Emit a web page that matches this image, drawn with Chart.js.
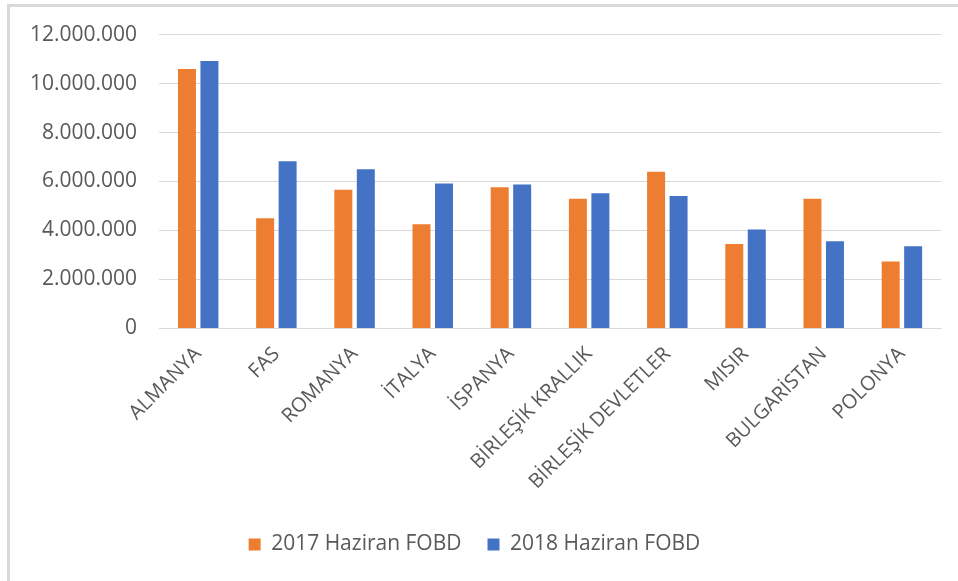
<!DOCTYPE html>
<html>
<head>
<meta charset="utf-8">
<script src="https://cdn.jsdelivr.net/npm/chart.js@4"></script>
<style>
  html, body { margin: 0; padding: 0; background: #fff; }
  #wrap { position: relative; width: 958px; height: 581px; overflow: hidden; }
  #frame { position: absolute; left: 7px; top: 4px; right: -10px; bottom: -10px;
           border-top: 3px solid #d9d9d9; border-left: 3px solid #d9d9d9; }
  #box { position: absolute; left: 0; top: 0; width: 958px; height: 581px; }
</style>
</head>
<body>
<div id="wrap">
  <div id="frame"></div>
  <div id="box"><canvas id="exportChart"></canvas></div>
</div>
<script>
// countries (x axis)
var countries = ['ALMANYA', 'FAS', 'ROMANYA', 'İTALYA', 'İSPANYA', 'BİRLEŞİK KRALLIK',
                 'BİRLEŞİK DEVLETLER', 'MISIR', 'BULGARİSTAN', 'POLONYA'];

// values
var values2017 = [10600000, 4500000, 5660000, 4250000, 5760000, 5300000, 6400000, 3450000, 5300000, 2730000];
var values2018 = [10920000, 6830000, 6500000, 5920000, 5880000, 5520000, 5410000, 4040000, 3560000, 3350000];

var seriesNames = ['2017 Haziran FOBD', '2018 Haziran FOBD'];

// y axis ticks
var yTicks = [0, 2000000, 4000000, 6000000, 8000000, 10000000, 12000000];

function dotted(v) {
    return String(v).replace(/\B(?=(\d{3})+(?!\d))/g, '.');
}

document.addEventListener('DOMContentLoaded', function () {
    var ctx = document.getElementById('exportChart').getContext('2d');
    var textColor = '#595959';
    var fam = "'Open Sans', sans-serif";

    new Chart(ctx, {
        type: 'bar',
        data: {
            labels: countries,
            datasets: [{
                label: seriesNames[0],
                data: values2017,
                backgroundColor: '#ED7D31',
                borderWidth: 0,
                categoryPercentage: 0.575,
                barPercentage: 0.8
            }, {
                label: seriesNames[1],
                data: values2018,
                backgroundColor: '#4472C4',
                borderWidth: 0,
                categoryPercentage: 0.575,
                barPercentage: 0.8
            }]
        },
        options: {
            responsive: true,
            maintainAspectRatio: false,
            animation: false,
            layout: {
                padding: { left: 8, right: 17, top: 22, bottom: 16 }
            },
            scales: {
                x: {
                    grid: { display: false, drawTicks: false },
                    border: { display: true, color: '#d9d9d9', width: 1 },
                    ticks: {
                        color: textColor,
                        font: { family: fam, size: 20 },
                        minRotation: 45,
                        maxRotation: 45,
                        padding: 14,
                        autoSkip: false
                    }
                },
                y: {
                    min: 0,
                    max: 12000000,
                    afterBuildTicks: function (axis) {
                        axis.ticks = yTicks.map(function (v) { return { value: v }; });
                    },
                    grid: { color: '#d9d9d9', drawTicks: false },
                    border: { display: false },
                    ticks: {
                        color: textColor,
                        font: { family: fam, size: 21 },
                        padding: 22,
                        callback: function (v) { return dotted(v); }
                    }
                }
            },
            plugins: {
                legend: {
                    position: 'bottom',
                    labels: {
                        color: textColor,
                        font: { family: fam, size: 21 },
                        boxWidth: 12,
                        boxHeight: 12,
                        padding: 26
                    }
                },
                tooltip: { enabled: false }
            }
        }
    });
});
</script>
</body>
</html>
